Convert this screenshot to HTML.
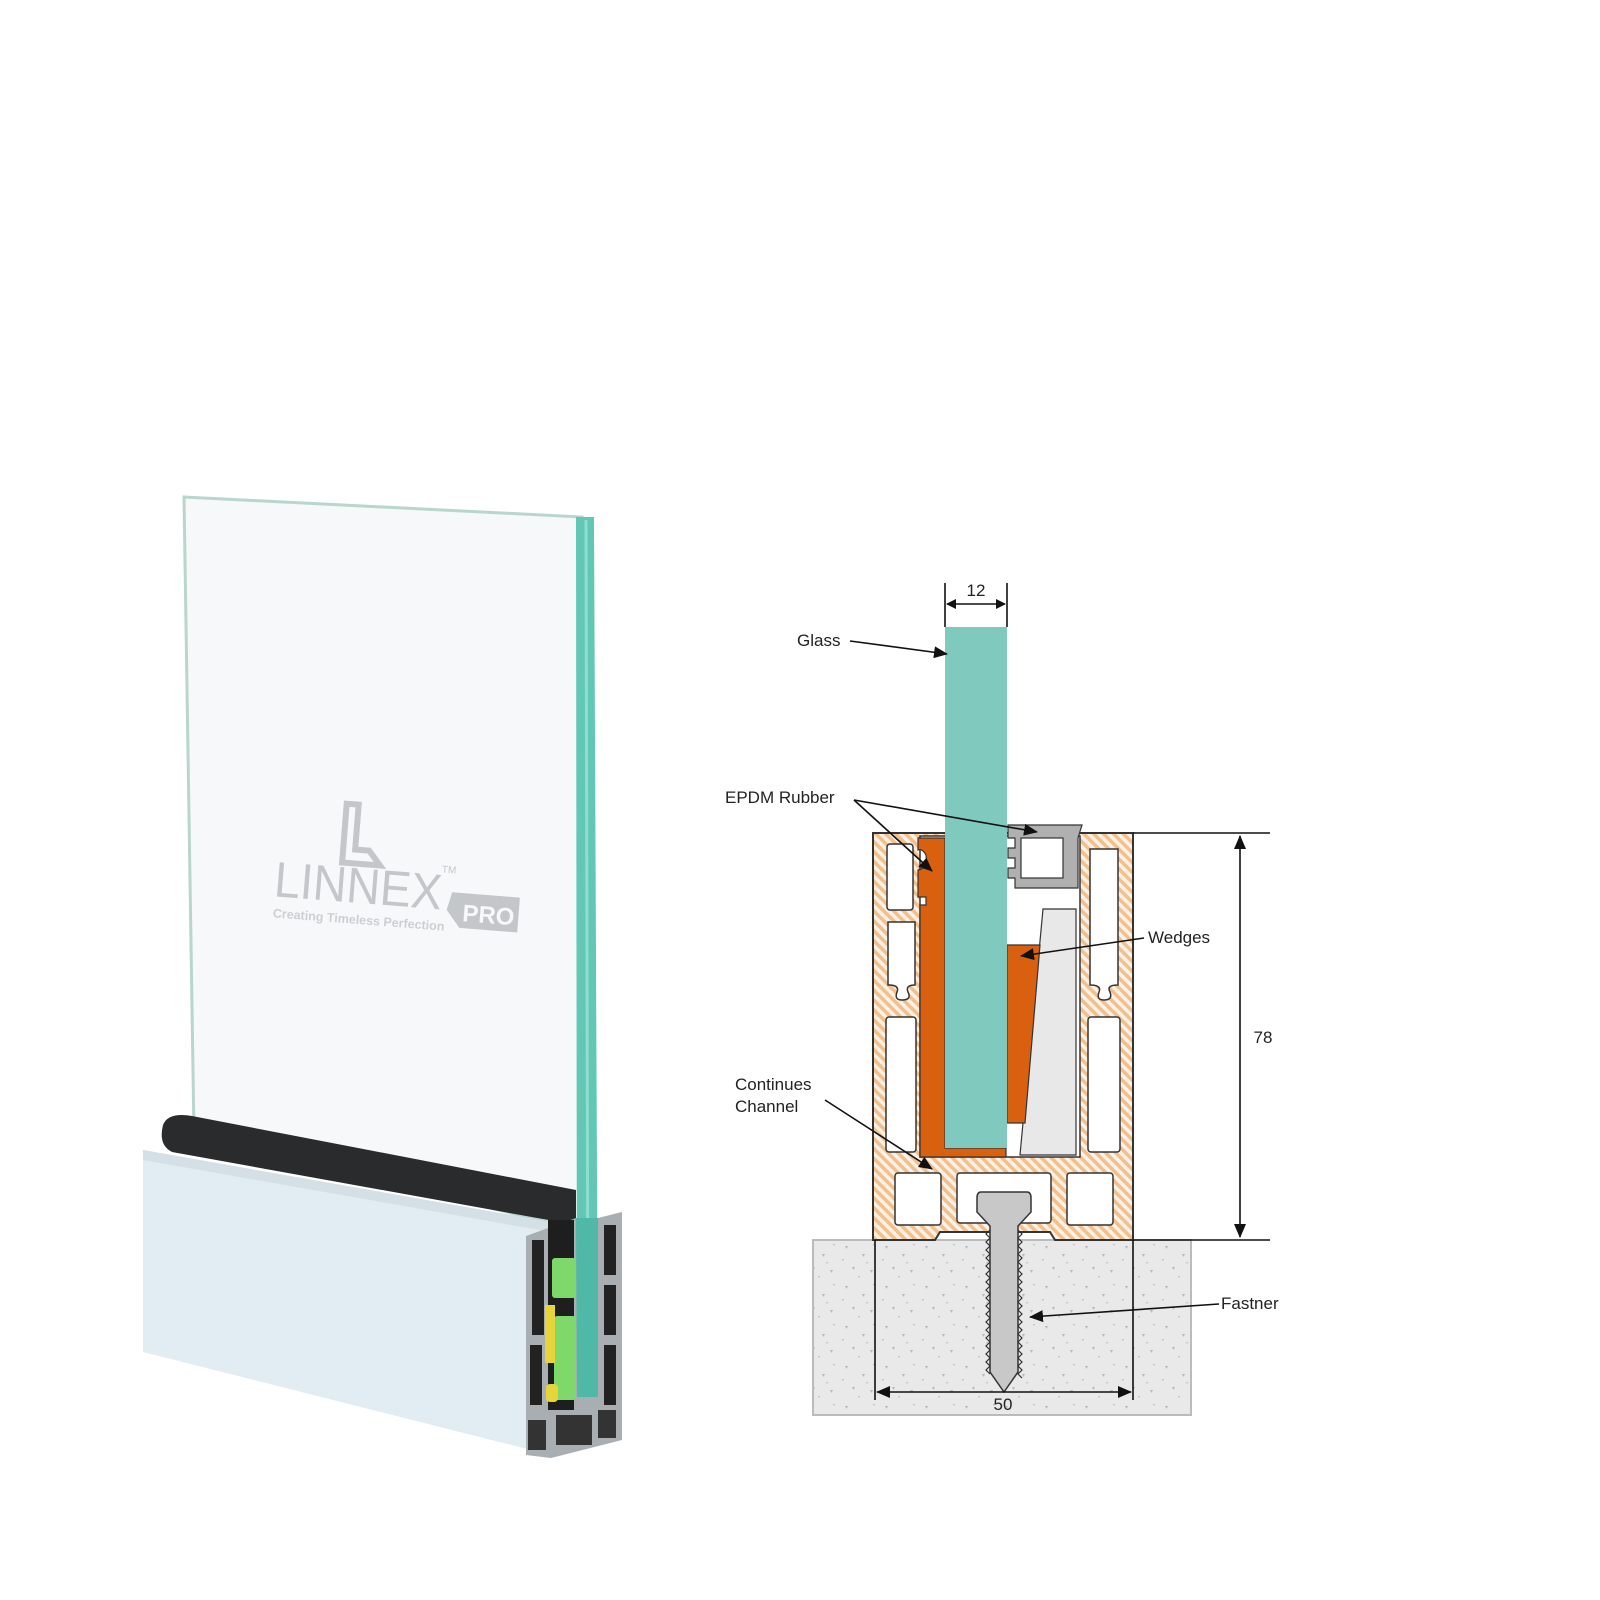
<!DOCTYPE html>
<html><head><meta charset="utf-8"><style>
html,body{margin:0;padding:0;background:#fff;}
svg{display:block;}
text{font-family:"Liberation Sans",sans-serif;}
</style></head><body>
<svg width="1600" height="1600" viewBox="0 0 1600 1600" xmlns="http://www.w3.org/2000/svg">
<defs>
<pattern id="hatch" width="7" height="7" patternUnits="userSpaceOnUse" patternTransform="rotate(-45)">
<rect width="7" height="7" fill="#fdf1e4"/><rect width="3.5" height="7" fill="#f1c08e"/>
</pattern>
<pattern id="conc" width="40" height="40" patternUnits="userSpaceOnUse">
<rect width="40" height="40" fill="#e9e9e9"/>
<path d="M5 6l3 0-1.5 3z M22 14l3 0-1.5 3z M33 4l2 0-1 2z M12 27l3 0-1.5 3z M30 30l3 0-1.5 3z M2 19l2 0-1 2z M18 36l2 0-1 2z M26 22l2 0-1 2z" fill="#b9b9b9"/>
</pattern>
<marker id="ar" markerWidth="10" markerHeight="10" refX="9" refY="5" orient="auto-start-reverse" markerUnits="userSpaceOnUse"><path d="M0 0L10 5L0 10z" fill="#111"/></marker>
<marker id="ar2" markerWidth="14" markerHeight="12" refX="13" refY="6" orient="auto-start-reverse" markerUnits="userSpaceOnUse"><path d="M0 0L14 6L0 12z" fill="#111"/></marker>
</defs>

<!-- LEFT: glass panel -->
<polygon points="184,497 582,517 580,1230 194,1135" fill="#f6f8f9" stroke="#b9d6cc" stroke-width="3"/>
<polygon points="576,517 594,517 598,1397 577,1397" fill="#62c7b5"/>
<line x1="586" y1="520" x2="588" y2="1395" stroke="#8fded0" stroke-width="3"/>

<!-- logo -->
<g transform="rotate(4.5 360 890)" fill="#c4c7ca">
<path d="M340 805 h12 v45 h14 l12 14 h-38z" fill="none" stroke="#c4c7ca" stroke-width="6"/>
<text x="274" y="903" font-size="50" fill="#c4c7ca" textLength="168" lengthAdjust="spacingAndGlyphs">LINNEX</text>
<text x="440" y="866" font-size="10" fill="#c4c7ca">TM</text>
<polygon points="452,885 520,885 520,920 462,920 448,903" fill="#c4c7ca"/>
<text x="464" y="913" font-size="24" font-weight="bold" fill="#f6f8f9">PRO</text>
<text x="275" y="924" font-size="12.5" font-weight="bold" fill="#ccd0d2">Creating Timeless Perfection</text>
</g>

<!-- base front face -->
<polygon points="143,1150 551,1222 551,1455 143,1352" fill="#e2ecf3"/>
<polygon points="143,1150 551,1222 551,1232 143,1160" fill="#d4dfe6"/>
<!-- rubber -->
<path d="M163,1125 Q168,1112 192,1116 L576,1190 L576,1225 L172,1152 Q158,1145 163,1125z" fill="#2a2b2c"/>
<!-- end section -->
<polygon points="526,1236 576,1218 598,1218 622,1212 622,1440 551,1458 526,1455" fill="#a9aeb2"/>
<rect x="532" y="1240" width="12" height="95" fill="#222"/>
<rect x="530" y="1345" width="12" height="60" fill="#222"/>
<rect x="604" y="1225" width="12" height="50" fill="#222"/>
<rect x="604" y="1285" width="12" height="50" fill="#222"/>
<rect x="604" y="1345" width="12" height="60" fill="#222"/>
<rect x="528" y="1420" width="18" height="30" fill="#333"/>
<rect x="556" y="1415" width="36" height="30" fill="#333"/>
<rect x="598" y="1410" width="18" height="28" fill="#333"/>
<rect x="548" y="1220" width="26" height="190" fill="#1e1e1e"/>
<rect x="552" y="1258" width="24" height="40" rx="3" fill="#7fd86a"/>
<rect x="554" y="1316" width="22" height="84" rx="3" fill="#7fd86a"/>
<rect x="545" y="1305" width="10" height="58" fill="#e6d53a"/>
<rect x="546" y="1384" width="12" height="18" rx="4" fill="#e6d53a"/>
<polygon points="576,1218 598,1218 598,1397 577,1397" fill="#4fb8a6"/>

<!-- RIGHT: concrete -->
<rect x="813" y="1240" width="378" height="175" fill="url(#conc)" stroke="#bbb" stroke-width="2"/>

<!-- channel profile -->
<path d="M873,833 H1133 V1240 H1055 L1050,1232 H940 L935,1240 H873 Z" fill="url(#hatch)" stroke="#333" stroke-width="2"/>
<path d="M920,836 H1080 V1157 H920 Z" fill="#fff" stroke="#333" stroke-width="1.5"/>
<g fill="#fff" stroke="#333" stroke-width="1.5">
<rect x="887" y="844" width="26" height="66" rx="3"/>
<path d="M888,922 H915 V985 Q905,985 908,992 Q912,1000 902,1000 Q894,1000 897,992 Q900,985 888,985 Z"/>
<rect x="886" y="1017" width="30" height="135" rx="3"/>
<path d="M1090,849 H1118 V985 Q1106,985 1110,992 Q1113,1000 1104,1000 Q1096,1000 1099,992 Q1102,985 1090,985 Z"/>
<rect x="1088" y="1017" width="32" height="135" rx="3"/>
<rect x="895" y="1173" width="46" height="52" rx="3"/>
<rect x="957" y="1173" width="94" height="50" rx="3"/>
<rect x="1067" y="1173" width="46" height="52" rx="3"/>
</g>
<!-- left orange gasket -->
<path d="M918,838 H945 V1148 H1006 V1157 H920 V905 H926 V897 H918 V870 Q928,868 926,855 Q922,848 918,850 Z" fill="#d9600f" stroke="#333" stroke-width="1.2"/>
<!-- right gray gasket -->
<path d="M1008,825 H1082 L1078,838 V888 H1015 V878 H1008 V868 H1015 V858 H1008 V848 H1015 V838 H1008 Z" fill="#b0b0b0" stroke="#333" stroke-width="1.2"/>
<rect x="1021" y="838" width="42" height="40" fill="#fff" stroke="#333" stroke-width="1.2"/>
<!-- wedges -->
<polygon points="1043,909 1076,909 1076,1155 1020,1155" fill="#e8e8e8" stroke="#333" stroke-width="1.2"/>
<polygon points="1007,945 1040,945 1025,1123 1007,1123" fill="#d9600f" stroke="#333" stroke-width="1.2"/>
<rect x="945" y="627" width="62" height="521" fill="#80c9bf"/>
<!-- screw -->
<path d="M981,1192 H1027 Q1031,1192 1031,1198 V1212 L1018,1226 V1372 L1004,1392 L990,1372 V1226 L977,1212 V1198 Q977,1192 981,1192Z" fill="#c8c8c8" stroke="#333" stroke-width="1.5"/>
<path d="M990,1230 l-4,4 4,4 -4,4 4,4 -4,4 4,4 -4,4 4,4 -4,4 4,4 -4,4 4,4 -4,4 4,4 -4,4 4,4 -4,4 4,4 -4,4 4,4 -4,4 4,4 -4,4 4,4 -4,4 4,4 -4,4 4,4 -4,4 4,4 -4,4 4,4 -4,4 4,4 -4,4 4,4 M1018,1230 l4,4 -4,4 4,4 -4,4 4,4 -4,4 4,4 -4,4 4,4 -4,4 4,4 -4,4 4,4 -4,4 4,4 -4,4 4,4 -4,4 4,4 -4,4 4,4 -4,4 4,4 -4,4 4,4 -4,4 4,4 -4,4 4,4 -4,4 4,4 -4,4 4,4 -4,4 4,4 -4,4 4,4" fill="none" stroke="#333" stroke-width="1.2"/>

<g stroke="#111" stroke-width="1.6" fill="none">
<line x1="945" y1="583" x2="945" y2="627"/><line x1="1007" y1="583" x2="1007" y2="627"/>
<line x1="947" y1="604" x2="1005" y2="604" marker-end="url(#ar)" marker-start="url(#ar)"/>
<line x1="1133" y1="833" x2="1270" y2="833"/><line x1="1133" y1="1240" x2="1270" y2="1240"/>
<line x1="1240" y1="836" x2="1240" y2="1237" marker-end="url(#ar2)" marker-start="url(#ar2)"/>
<line x1="875" y1="1240" x2="875" y2="1400"/><line x1="1133" y1="1240" x2="1133" y2="1400"/>
<line x1="877" y1="1392" x2="1131" y2="1392" marker-end="url(#ar2)" marker-start="url(#ar2)"/>
<line x1="850" y1="641" x2="947" y2="654" marker-end="url(#ar2)"/>
<line x1="854" y1="800" x2="932" y2="871" marker-end="url(#ar2)"/>
<line x1="854" y1="800" x2="1037" y2="832" marker-end="url(#ar2)"/>
<line x1="1144" y1="938" x2="1021" y2="956" marker-end="url(#ar2)"/>
<line x1="825" y1="1100" x2="932" y2="1169" marker-end="url(#ar2)"/>
<line x1="1219" y1="1304" x2="1030" y2="1317" marker-end="url(#ar2)"/>
</g>
<g font-size="17" fill="#222">
<text x="976" y="596" text-anchor="middle">12</text>
<text x="797" y="646">Glass</text>
<text x="725" y="803">EPDM Rubber</text>
<text x="1148" y="943">Wedges</text>
<text x="735" y="1090">Continues</text>
<text x="735" y="1112">Channel</text>
<text x="1221" y="1309">Fastner</text>
<text x="1263" y="1043" text-anchor="middle">78</text>
<text x="1003" y="1410" text-anchor="middle">50</text>
</g>
</svg>
</body></html>
